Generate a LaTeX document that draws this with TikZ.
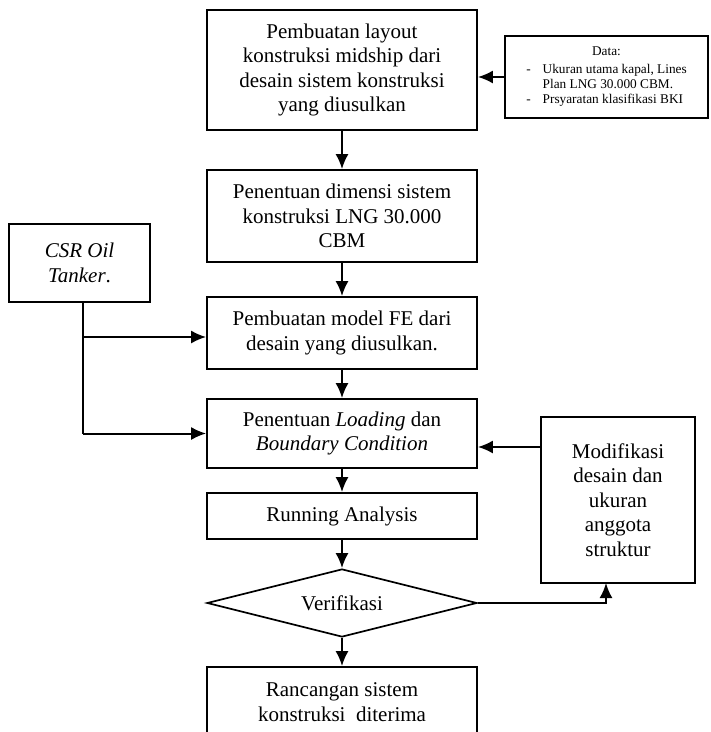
\documentclass[tikz,border=0pt]{standalone}
\usepackage{fontspec}
\setmainfont{Liberation Serif}
\usetikzlibrary{arrows.meta,shapes.geometric}

\tikzstyle{line} = [draw, line width=2pt, -{Latex[length=15pt,width=13pt]}]
\tikzstyle{kotak} = [draw, line width=1.7pt, align=center, inner sep=2pt, font=\fontsize{21}{24.5}\selectfont]
\tikzstyle{langkah} = [kotak, minimum width=270pt]

\begin{document}
\begin{tikzpicture}[x=1pt,y=-1pt]
		\clip (0,0) rectangle (711,732);
		% alur utama
		\node[langkah, minimum height=120pt] (layout) at (342,70) {Pembuatan layout\\konstruksi midship dari\\desain sistem konstruksi\\yang diusulkan};
		\node[langkah, minimum height=92pt] (dimensi) at (342,216) {Penentuan dimensi sistem\\konstruksi LNG 30.000\\CBM};
		\node[langkah, minimum height=72pt] (modelfe) at (342,333) {Pembuatan model FE dari\\desain yang diusulkan.};
		\node[langkah, minimum height=69pt] (loading) at (342,433.5) {Penentuan \textit{Loading} dan\\\textit{Boundary Condition}};
		\node[langkah, minimum height=46pt] (running) at (342,516) {Running Analysis};
		\node[kotak, diamond, aspect=3.97, inner sep=0pt, minimum width=270pt, minimum height=68pt] (verif) at (342,603) {Verifikasi};
		\node[langkah, minimum height=70pt] (terima) at (342,702) {Rancangan sistem\\konstruksi~ diterima};
		% kotak samping
		\node[kotak, minimum width=203pt, minimum height=82pt, font=\fontsize{13.3}{15}\selectfont] (data) at (606.5,77) {Data:\\[3pt]\begin{tabular}[t]{@{}l@{\hspace{12pt}}l@{}}-&Ukuran utama kapal, Lines\\&Plan LNG 30.000 CBM.\\-&Prsyaratan klasifikasi BKI\end{tabular}};
		\node[kotak, minimum width=141pt, minimum height=78pt] (csr) at (79.5,263) {\textit{CSR Oil}\\\textit{Tanker}.};
		\node[kotak, minimum width=154pt, minimum height=166pt] (modif) at (618,500) {Modifikasi\\desain dan\\ukuran\\anggota\\struktur};
		
		\draw[line] (layout) -- (dimensi);
		\draw[line] (dimensi) -- (modelfe);
		\draw[line] (modelfe) -- (loading);
		\draw[line] (loading) -- (running);
		\draw[line] (running) -- (verif);
		\draw[line] (verif) -- (terima);
		\draw[line] (data.west) -- (data.west -| layout.east);
		
		\coordinate (csrtop) at (83,302);
		\coordinate (csrmid) at (83,337);
		\coordinate (csrbot) at (83,433.5);
		\draw[line width=2pt] (csrtop) -- (csrbot);
		\draw[line] (csrmid) -- (csrmid -| modelfe.west);
		\draw[line] (csrbot) -- (loading.west);
		
		\coordinate (modin) at (541,447);
		\coordinate (modup) at (606,583);
		\draw[line] (modin) -- (modin -| loading.east);
		\draw[line] (verif.east) -| (modup);
	\end{tikzpicture}
\end{document}
